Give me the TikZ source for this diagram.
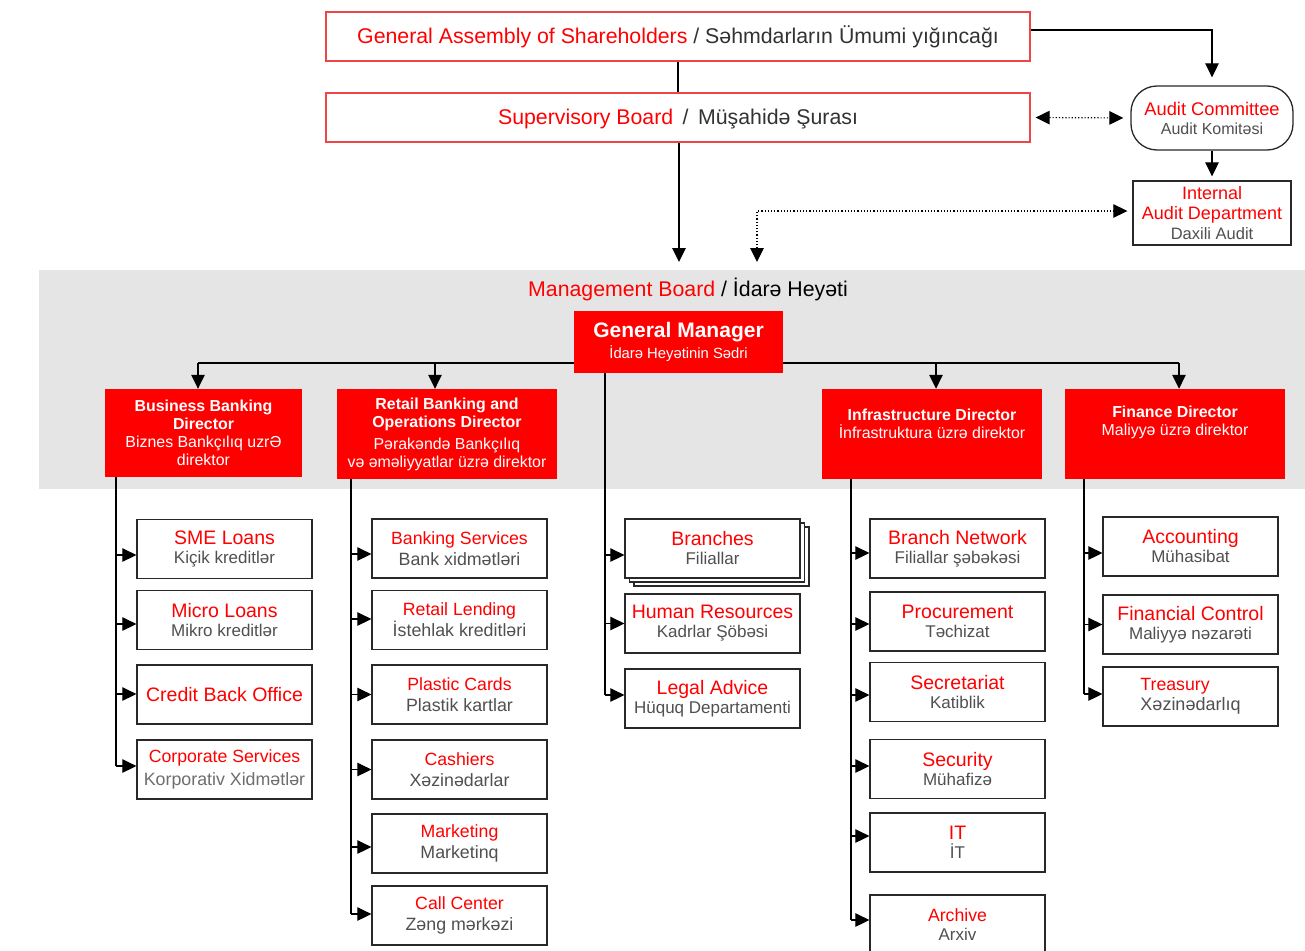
\documentclass[tikz,border=0pt]{standalone}
\usepackage{fontspec}
\setmainfont{Liberation Sans}
\usetikzlibrary{arrows.meta,shadows}
\definecolor{bred}{RGB}{255,0,0}
\definecolor{gborder}{RGB}{238,70,70}
\definecolor{subg}{RGB}{80,80,80}
\definecolor{subl}{RGB}{110,110,110}
\definecolor{darkt}{RGB}{50,50,50}
\definecolor{band}{RGB}{229,229,229}
\definecolor{edge}{RGB}{40,40,40}
\newcommand\fs[2]{\fontsize{#1}{#2}\selectfont}
\newcommand\rt[1]{{\color{bred}\fs{19.5}{18}#1}}
\newcommand\rs[1]{{\color{bred}\fs{17.7}{18}#1}}
\begin{document}
\begin{tikzpicture}[x=1pt,y=-1pt,
  tip/.tip={Triangle[length=14pt,width=13.5pt]},
  ln/.style={line width=1.2pt, draw=black},
  arr/.style={ln, -tip},
  dotarr/.style={ln, dotted, tip-tip},
  topbox/.style={draw=gborder, line width=1.2pt, minimum width=704pt, minimum height=49pt, inner sep=0pt, font=\fs{21.3}{24}, text=darkt, text height=18pt, text depth=4pt},
  dirbox/.style={fill=bred, text=white, align=center, inner sep=0pt, font=\fs{15.9}{18}},
  subbox/.style={draw=edge, fill=white, line width=1.3pt, minimum width=175pt, minimum height=59pt, inner sep=0pt, align=center, font=\fs{17}{19}, text=subg},
  wide/.style={font=\fs{17.8}{21}},
]
\useasboundingbox (0,0) rectangle (1305,950);
\fill[band] (39,270) rectangle (1305,489);

% top
\node[topbox] (ga) at (678,36.5) {\textcolor{bred}{General Assembly of Shareholders} / Səhmdarların Ümumi yığıncağı};
\node[topbox] (sb) at (678,117.5) {\textcolor{bred}{Supervisory Board}\, / \,Müşahidə Şurası};
\node[draw=edge, line width=1.3pt, rounded corners=26pt, minimum width=162pt, minimum height=64pt, fill=white, inner sep=0pt, align=center, font=\fs{16}{19}, text=subg] (ac) at (1212,118) {{\color{bred}\fs{18.3}{19}Audit Committee}\\Audit Komitəsi};
\node[draw=edge, line width=1.3pt, minimum width=158pt, minimum height=64pt, fill=white, inner sep=0pt, align=center, font=\fs{16.5}{20}, text=subg] (ia) at (1212,213) {{\color{bred}\fs{18}{20}Internal}\\{\color{bred}\fs{18}{20}Audit Department}\\Daxili Audit};

\coordinate (mbin) at (679,262);
\coordinate (mbdot) at (757,262);
\draw[ln] (ga) -- (sb);
\draw[arr] (sb.south -| mbin) -- (mbin);
\draw[arr, shorten >=8pt] ([yshift=6.5pt]ga.east) -| (ac.north);
\draw[arr, shorten >=4pt] (ac) -- (ia);
\draw[dotarr, shorten <=5pt, shorten >=7pt] (sb.east) -- (ac.west);
\draw[dotarr, shorten >=5pt] (mbdot) |- ([yshift=2pt]ia.west);

% management board
\node[font=\fs{21.3}{24}] (mb) at (688,289) {\textcolor{bred}{Management Board} / İdarə Heyəti};
\coordinate (b1) at (198,363);
\coordinate (b2) at (435,363);
\coordinate (b4) at (936,363);
\coordinate (b5) at (1179,363);
\draw[ln] (b1) -- (b5);
\node[fill=bred, text=white, minimum width=209pt, minimum height=62pt, align=center, inner sep=0pt, font=\fs{14.8}{21}] (gm) at (678.5,342) {{\bfseries\fs{21}{21}General Manager}\\İdarə Heyətinin Sədri};

\node[dirbox, minimum width=197pt, minimum height=88pt] (bbd) at (203.5,433) {{\bfseries Business Banking}\\{\bfseries Director}\\Biznes Bankçılıq uzrƏ\\direktor};
\node[dirbox, minimum width=220pt, minimum height=90pt] (rbd) at (447,434) {{\bfseries Retail Banking and}\\{\bfseries Operations Director}\\[4pt]Pərakəndə Bankçılıq\\və əməliyyatlar üzrə direktor};
\node[dirbox, minimum width=220pt, minimum height=90pt] (inf) at (932,434) {{\bfseries Infrastructure Director}\\İnfrastruktura üzrə direktor\\[2pt]\mbox{}};
\node[dirbox, minimum width=220pt, minimum height=90pt] (fin) at (1175,434) {{\bfseries Finance Director}\\Maliyyə üzrə direktor\\[8pt]\mbox{}};

\draw[arr] (b1) -- (b1 |- bbd.north);
\draw[arr] (b2) -- (b2 |- rbd.north);
\draw[arr] (b4) -- (b4 |- inf.north);
\draw[arr] (b5) -- (b5 |- fin.north);

\coordinate (c1) at (116,0);
\coordinate (c2) at (351,0);
\coordinate (c3) at (605,0);
\coordinate (c4) at (851,0);
\coordinate (c5) at (1084,0);

% column 1
\node[subbox] (sme) at (224.5,549) {\rt{SME Loans}\\Kiçik kreditlər};
\node[subbox] (mic) at (224.5,620) {\rt{Micro Loans}\\Mikro kreditlər};
\node[subbox] (cbo) at (224.5,694.5) {\rt{Credit Back Office}};
\node[subbox, wide, font=\fs{17.8}{23}, text=subl] (cor) at (224.5,769.5) {\rs{Corporate Services}\\Korporativ Xidmətlər};
\foreach \n/\s in {sme/-6,mic/-4,cbo/0.5,cor/3.5} \coordinate (\n-in) at ([yshift=\s pt]\n.west);
\draw[ln] (bbd.south -| c1) -- (c1 |- cor-in);
\foreach \n in {sme,mic,cbo,cor} \draw[arr] (c1 |- \n-in) -- (\n-in);

% column 2
\node[subbox, wide] (bsv) at (459.5,548.5) {\rs{Banking Services}\\Bank xidmətləri};
\node[subbox, wide] (rtl) at (459.5,620) {\rs{Retail Lending}\\İstehlak kreditləri};
\node[subbox, wide] (pcd) at (459.5,694.5) {\rs{Plastic Cards}\\Plastik kartlar};
\node[subbox, wide] (csh) at (459.5,769.5) {\rs{Cashiers}\\Xəzinədarlar};
\node[subbox, wide] (mkt) at (459.5,843.5) {\rs{Marketing}\\Marketinq};
\node[subbox, wide] (ccn) at (459.5,915.5) {\rs{Call Center}\\Zəng mərkəzi};
\foreach \n/\s in {bsv/-5.5,rtl/1,pcd/0,csh/0,mkt/-3.5,ccn/1.5} \coordinate (\n-in) at ([yshift=\s pt]\n.west);
\draw[ln] (rbd.south -| c2) -- (c2 |- ccn-in);
\foreach \n in {bsv,rtl,pcd,csh,mkt,ccn} \draw[arr] (c2 |- \n-in) -- (\n-in);

% column 3
\node[subbox, double copy shadow={shadow xshift=4.5pt, shadow yshift=-4pt}] (brn) at (712.5,548.5) {\rt{Branches}\\Filiallar};
\node[subbox] (hrs) at (712.5,623.5) {\rt{Human Resources}\\Kadrlar Şöbəsi};
\node[subbox] (lga) at (712.5,698.5) {\rt{Legal Advice}\\Hüquq Departamenti};
\foreach \n/\s in {brn/-6.5,hrs/0,lga/3.5} \coordinate (\n-in) at ([yshift=\s pt]\n.west);
\draw[ln] (gm.south -| c3) -- (c3 |- lga-in);
\foreach \n in {brn,hrs,lga} \draw[arr] (c3 |- \n-in) -- (\n-in);

% column 4
\node[subbox] (bnw) at (957.5,548.5) {\rt{Branch Network}\\Filiallar şəbəkəsi};
\node[subbox] (prc) at (957.5,621.5) {\rt{Procurement}\\Təchizat};
\node[subbox] (sec) at (957.5,692) {\rt{Secretariat}\\Katiblik};
\node[subbox] (scu) at (957.5,769) {\rt{Security}\\Mühafizə};
\node[subbox] (itd) at (957.5,842.5) {\rt{IT}\\İT};
\node[subbox, minimum height=60pt] (arc) at (957.5,925) {\rs{Archive}\\Arxiv};
\foreach \n/\s in {bnw/-4.5,prc/-2.5,sec/-3,scu/3,itd/6.5,arc/5} \coordinate (\n-in) at ([yshift=\s pt]\n.west);
\draw[ln] (inf.south -| c4) -- (c4 |- arc-in);
\foreach \n in {bnw,prc,sec,scu,itd,arc} \draw[arr] (c4 |- \n-in) -- (\n-in);

% column 5
\node[subbox] (acc) at (1190.5,546.5) {\rt{Accounting}\\Mühasibat};
\node[subbox] (fco) at (1190.5,624.5) {\rt{Financial Control}\\Maliyyə nəzarəti};
\node[subbox, align=left, font=\fs{18}{20}] (tre) at (1190.5,696.5) {\rs{Treasury}\\Xəzinədarlıq};
\foreach \n/\s in {acc/-6.5,fco/0,tre/2.5} \coordinate (\n-in) at ([yshift=\s pt]\n.west);
\draw[ln] (fin.south -| c5) -- (c5 |- tre-in);
\foreach \n in {acc,fco,tre} \draw[arr] (c5 |- \n-in) -- (\n-in);
\end{tikzpicture}
\end{document}
